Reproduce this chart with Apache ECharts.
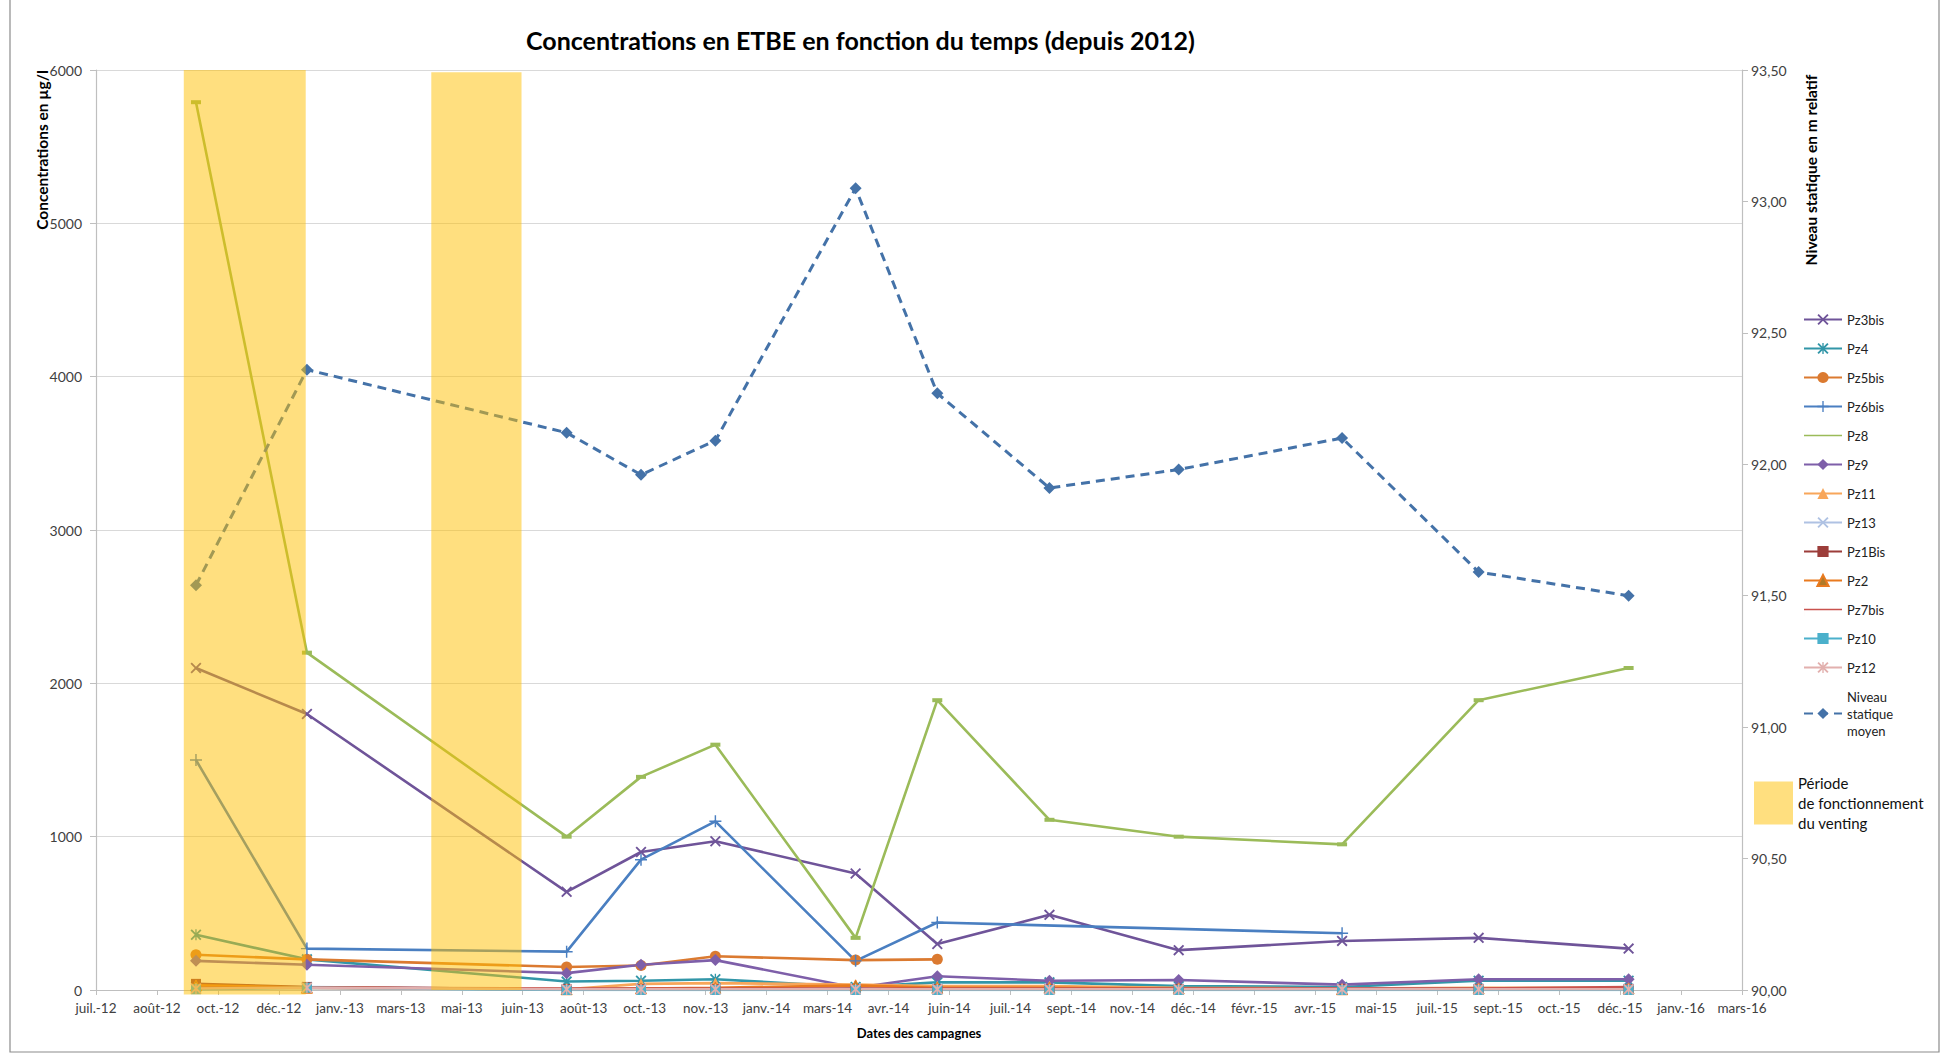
<!DOCTYPE html>
<html>
<head>
<meta charset="utf-8">
<script src="https://cdn.jsdelivr.net/npm/echarts@6/dist/echarts.min.js"></script>
<style>
html,body{margin:0;padding:0;background:#fff;}
#chart{width:1943px;height:1054px;}
</style>
</head>
<body>
<div id="chart"></div>
<script>
// ---- data ----
const axisStartDate = '2012-07-10';
const campaignDates = ['2012-09-30','2012-12-30','2013-07-31','2013-09-30','2013-11-30','2014-03-25','2014-05-31','2014-08-31','2014-12-15','2015-04-28','2015-08-18','2015-12-19'];
const ventStart = ['2012-09-20','2013-04-11'];
const ventEnd = ['2012-12-29','2013-06-24'];
const ventTop = [6000, 5985];
const ventBottom = [-30, 0];

const pz3bis = [2100, 1800, 640, 900, 970, 760, 300, 490, 260, 320, 340, 270];
const pz4 = [360, 200, 55, 60, 70, 20, 50, 50, 25, 20, 60, 60];
const pz5bis = [230, 200, 150, 160, 220, 195, 200, null, null, null, null, null];
const pz6bis = [1500, 270, 250, 850, 1100, 190, 440, null, null, 370, null, null];
const pz8 = [5790, 2200, 1000, 1390, 1600, 340, 1890, 1110, 1000, 950, 1890, 2100];
const pz9 = [190, 165, 110, 165, 195, 15, 90, 60, 65, 35, 70, 70];
const pz11 = [10, 15, 5, 40, 45, 35, 25, 25, 15, 10, 15, 15];
const pz13 = [20, 20, 5, 10, 10, 10, 10, 10, 10, 10, 10, 10];
const pz1bis = [40, 20, 5, 5, 5, 5, 5, 5, 5, 5, 5, 5];
const pz2 = [30, 15, 5, 10, 15, 30, 15, 15, 10, 5, 10, 10];
const pz7bis = [15, 15, 10, 10, 10, 10, 10, 10, 10, 10, 10, 20];
const pz10 = [5, 15, 0, 0, 0, 0, 0, 0, 0, 0, 0, 0];
const pz12 = [10, 15, 5, 5, 5, 5, 5, 5, 5, 5, 5, 5];
const niveau = [91.54, 92.36, 92.12, 91.96, 92.09, 93.05, 92.27, 91.91, 91.98, 92.10, 91.59, 91.50];

const concMin = 0, concMax = 6000, concStep = 1000;
const levelMin = 90, levelMax = 93.5, levelStep = 0.5;
const dayStep = 50, dayMax = 1350;
const monthNames = ['janv.','févr.','mars','avr.','mai','juin','juil.','août','sept.','oct.','nov.','déc.'];

// ---- helpers ----
const DAY = 86400000;
const t0 = Date.parse(axisStartDate + 'T00:00:00Z');
const toDay = d => Math.round((Date.parse(d + 'T00:00:00Z') - t0) / DAY);
const campaignDays = campaignDates.map(toDay);
const pairs = vals => campaignDays.map((d, i) => [d, vals[i]]).filter(p => p[1] !== null);

const SYM_X = 'path://M0,1.2 L1.2,0 L5,3.8 L8.8,0 L10,1.2 L6.2,5 L10,8.8 L8.8,10 L5,6.2 L1.2,10 L0,8.8 L3.8,5 Z';
const SYM_AST = 'path://M0,1.2 L1.2,0 L5,3.8 L8.8,0 L10,1.2 L6.2,5 L10,8.8 L8.8,10 L5,6.2 L1.2,10 L0,8.8 L3.8,5 Z M4.4,0 L5.6,0 L5.6,10 L4.4,10 Z';
const SYM_PLUS = 'path://M4.4,0 L5.6,0 L5.6,4.4 L10,4.4 L10,5.6 L5.6,5.6 L5.6,10 L4.4,10 L4.4,5.6 L0,5.6 L0,4.4 L4.4,4.4 Z';
const SYM_DASH = 'path://M0,0 L10,0 L10,3 L0,3 Z';
const LEGEND_PLAIN_LINE = 'path://M0,6.2 L38,6.2 L38,7.8 L0,7.8 Z M0,0 L0.01,0 L0.01,14 L0,14 Z';

function lineSeries(name, vals, color, symbol, size, opts) {
  opts = opts || {};
  return {
    type: 'line', name: name, data: pairs(vals),
    yAxisIndex: opts.yAxisIndex || 0,
    symbol: symbol, symbolSize: size,
    showSymbol: true, connectNulls: true,
    lineStyle: { color: color, width: opts.width || 2.6, type: opts.dash || 'solid' },
    itemStyle: { color: opts.fill || color, borderColor: opts.border || color, borderWidth: opts.borderWidth || 0 },
    z: 2, silent: true
  };
}

const venting = ventStart.map((s, i) => [toDay(s), toDay(ventEnd[i]), ventTop[i], ventBottom[i]]);
const ventColor = 'rgba(255,192,0,0.5)';

const series = [
  lineSeries('Pz3bis', pz3bis, '#6F5499', SYM_X, 11),
  lineSeries('Pz4', pz4, '#3296A8', SYM_AST, 11),
  lineSeries('Pz5bis', pz5bis, '#DB7A30', 'circle', 11),
  lineSeries('Pz6bis', pz6bis, '#4A7FC1', SYM_PLUS, 12),
  lineSeries('Pz8', pz8, '#9BBB59', SYM_DASH, [10, 4]),
  lineSeries('Pz9', pz9, '#7E5FA9', 'diamond', 12),
  lineSeries('Pz11', pz11, '#F8A65A', 'triangle', 11),
  lineSeries('Pz13', pz13, '#AFC2E3', SYM_X, 11),
  lineSeries('Pz1Bis', pz1bis, '#9C3D3A', 'rect', 10),
  lineSeries('Pz2', pz2, '#E97A1F', 'triangle', 11, { fill: '#B07A28', border: '#E97A1F', borderWidth: 1 }),
  lineSeries('Pz7bis', pz7bis, '#C9524E', SYM_DASH, [10, 4]),
  lineSeries('Pz10', pz10, '#4BB0CB', 'rect', 10),
  lineSeries('Pz12', pz12, '#E2B0AE', SYM_AST, 11),
  lineSeries('Niveau statique moyen', niveau, '#4472A8', 'diamond', 12, { yAxisIndex: 1, width: 3, dash: [9, 6] }),
  {
    type: 'custom', name: 'Période de fonctionnement du venting',
    data: venting, z: 3, silent: true,
    encode: { x: [0, 1], y: [2, 3] },
    itemStyle: { color: ventColor },
    renderItem: function (params, api) {
      const p0 = api.coord([api.value(0), api.value(2)]);
      const p1 = api.coord([api.value(1), api.value(3)]);
      return {
        type: 'rect',
        shape: { x: p0[0], y: p0[1], width: p1[0] - p0[0], height: p1[1] - p0[1] },
        style: { fill: ventColor }
      };
    }
  }
];

const FONT = 'Lato, "Open Sans", sans-serif';
const legendNames = ['Pz3bis','Pz4','Pz5bis','Pz6bis',
  { name: 'Pz8', icon: LEGEND_PLAIN_LINE },
  'Pz9','Pz11','Pz13','Pz1Bis','Pz2',
  { name: 'Pz7bis', icon: LEGEND_PLAIN_LINE },
  'Pz10','Pz12','Niveau statique moyen'];

const option = {
  animation: false,
  backgroundColor: '#ffffff',
  textStyle: { fontFamily: FONT },
  title: {
    text: 'Concentrations en ETBE en fonction du temps (depuis 2012)',
    left: 521, top: 22,
    textStyle: { fontFamily: FONT, fontSize: 25, fontWeight: 'bold', color: '#000' }
  },
  grid: { left: 96, right: 201, top: 70, bottom: 64, containLabel: false },
  legend: [
    {
      data: legendNames, orient: 'vertical', left: 1798, top: 306,
      itemWidth: 38, itemHeight: 14, itemGap: 12,
      selectedMode: false,
      textStyle: { fontFamily: FONT, fontSize: 13, color: '#222', lineHeight: 17 },
      formatter: function (n) { return n === 'Niveau statique moyen' ? 'Niveau\nstatique\nmoyen' : n; }
    },
    {
      data: [{ name: 'Période de fonctionnement du venting', icon: 'rect' }],
      orient: 'vertical', left: 1749, top: 768,
      itemWidth: 39, itemHeight: 43, selectedMode: false,
      textStyle: { fontFamily: FONT, fontSize: 15, color: '#111', lineHeight: 20 },
      formatter: function () { return 'Période\nde fonctionnement\ndu venting'; }
    }
  ],
  xAxis: {
    type: 'value', min: 0, max: dayMax, interval: dayStep,
    name: 'Dates des campagnes', nameLocation: 'middle', nameGap: 36,
    nameTextStyle: { fontFamily: FONT, fontSize: 13, fontWeight: 'bold', color: '#000' },
    axisLine: { show: true, onZero: false, lineStyle: { color: '#BFBFBF', width: 1.2 } },
    axisTick: { show: true, length: 5, lineStyle: { color: '#BFBFBF' } },
    splitLine: { show: false },
    axisLabel: {
      fontFamily: FONT, fontSize: 13.5, color: '#404040', margin: 11,
      showMinLabel: true, showMaxLabel: true, hideOverlap: false,
      formatter: function (v) {
        const d = new Date(t0 + v * DAY);
        return monthNames[d.getUTCMonth()] + '-' + String(d.getUTCFullYear()).slice(2);
      }
    }
  },
  yAxis: [
    {
      type: 'value', min: concMin, max: concMax, interval: concStep, position: 'left',
      axisLine: { show: true, lineStyle: { color: '#BFBFBF', width: 1.2 } },
      axisTick: { show: true, length: 6, lineStyle: { color: '#BFBFBF' } },
      splitLine: { show: true, lineStyle: { color: '#D9D9D9', width: 1.2 } },
      axisLabel: { fontFamily: FONT, fontSize: 14, color: '#404040', margin: 14,
        formatter: function (v) { return String(v); } }
    },
    {
      type: 'value', min: levelMin, max: levelMax, interval: levelStep, position: 'right',
      axisLine: { show: true, lineStyle: { color: '#BFBFBF', width: 1.2 } },
      axisTick: { show: true, length: 6, lineStyle: { color: '#BFBFBF' } },
      splitLine: { show: false },
      axisLabel: {
        fontFamily: FONT, fontSize: 14, color: '#404040', margin: 9,
        formatter: function (v) { return v.toFixed(2).replace('.', ','); }
      }
    }
  ],
  graphic: [
    { type: 'rect', shape: { x: 10, y: -5, width: 1929, height: 1057 }, style: { fill: 'none', stroke: '#8C8C8C', lineWidth: 1.2 }, silent: true, z: 0 },
    { type: 'text', x: 42, y: 150, rotation: Math.PI / 2, silent: true,
      style: { text: 'Concentrations en µg/l', font: 'bold 15.5px ' + FONT, fill: '#000', align: 'center', verticalAlign: 'middle' } },
    { type: 'text', x: 1811, y: 170, rotation: Math.PI / 2, silent: true,
      style: { text: 'Niveau statique en m relatif', font: 'bold 15.5px ' + FONT, fill: '#000', align: 'center', verticalAlign: 'middle' } }
  ],
  series: series
};

const chart = echarts.init(document.getElementById('chart'), null, { renderer: 'svg' });
chart.setOption(option);
</script>
</body>
</html>
